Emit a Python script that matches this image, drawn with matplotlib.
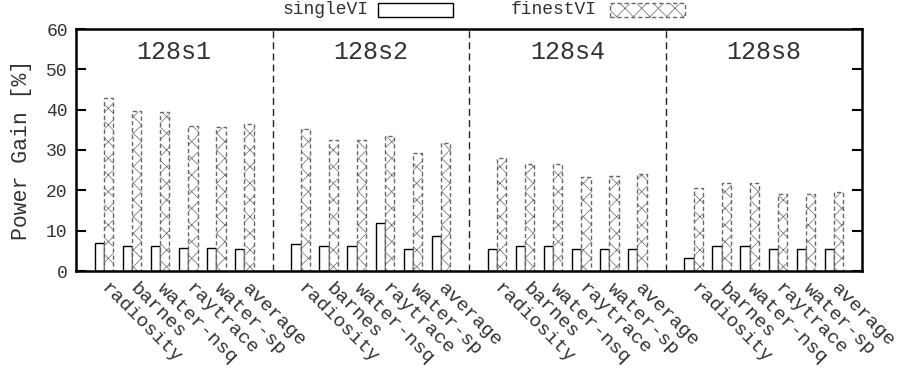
#!/usr/bin/env python3

import numpy as np
import matplotlib
matplotlib.use('Agg')
import matplotlib.pyplot as plt
import matplotlib.ticker as ticker
import matplotlib.patches as mpatches

plt.rcParams['font.family'] = ['Liberation Mono', 'DejaVu Sans Mono']
plt.rcParams['hatch.linewidth'] = 0.5

configs = ['128s1', '128s2', '128s4', '128s8']
benchmarks = ['radiosity', 'barnes', 'water-nsq', 'raytrace', 'water-sp', 'average']
series = ['singleVI', 'finestVI']

# power gain [%] per config, in benchmark order
single_vi = {
    '128s1': [6.9, 6.2, 6.3, 5.7, 5.6, 5.4],
    '128s2': [6.7, 6.2, 6.2, 11.8, 5.5, 8.7],
    '128s4': [5.4, 6.2, 6.2, 5.4, 5.4, 5.4],
    '128s8': [3.3, 6.2, 6.2, 5.4, 5.4, 5.4],
}
finest_vi = {
    '128s1': [42.8, 39.7, 39.5, 36.0, 35.6, 36.4],
    '128s2': [35.2, 32.5, 32.5, 33.5, 29.2, 31.8],
    '128s4': [27.9, 26.5, 26.5, 23.4, 23.6, 24.0],
    '128s8': [20.7, 21.7, 21.7, 19.1, 19.1, 19.7],
}

W, H = 897, 370
fig = plt.figure(figsize=(W / 100, H / 100), dpi=100)
ax = fig.add_axes([76 / W, 1 - 271 / H, 786 / W, 242 / H])

single_style = dict(facecolor='white', edgecolor='black', linewidth=1.0)
finest_style = dict(facecolor='white', edgecolor='#666666', linewidth=1.0,
                    linestyle=(0, (3, 2)), hatch='xx')

slot = len(benchmarks) + 1
width = 0.33
positions = []
labels = []

for g, cfg in enumerate(configs):
    x = np.arange(len(benchmarks)) + g * slot
    positions.extend(x)
    labels.extend(benchmarks)

    ax.bar(x - width / 2, single_vi[cfg], width, **single_style)
    ax.bar(x + width / 2, finest_vi[cfg], width, **finest_style)

    # group title
    ax.text(g * slot + (len(benchmarks) - 1) / 2, 54.3, cfg,
            ha='center', va='center', fontsize=18, color='#333333')

    # separator between groups
    if g < len(configs) - 1:
        ax.axvline(g * slot + len(benchmarks), color='#222222',
                   linewidth=1.0, linestyle=(0, (5, 3)))

ax.set_xlim(-1, len(configs) * slot - 1)
ax.set_ylim(0, 60)
ax.yaxis.set_major_locator(ticker.MultipleLocator(10))

ax.set_xticks(positions)
ax.set_xticklabels(labels, rotation=-45, ha='left', va='center',
                   rotation_mode='anchor', fontsize=14, color='#333333')
ax.tick_params(axis='x', length=0, pad=11)
ax.tick_params(axis='y', direction='in', length=7, width=1.5,
               right=True, labelsize=13, labelcolor='#333333', pad=6)

for spine in ax.spines.values():
    spine.set_linewidth(1.8)

ax.set_ylabel('Power Gain [%]', fontsize=15.5, color='#333333', labelpad=10)

# gnuplot-style key above the plot: label then sample box
key_text_right = [368, 597]
key_box_left = [378, 610]
for name, tx, bx, style in zip(series, key_text_right, key_box_left,
                               [single_style, finest_style]):
    fig.text(tx / W, 1 - 10 / H, name, ha='right', va='center',
             fontsize=13, color='#333333')
    fig.patches.append(mpatches.Rectangle((bx / W, 1 - 17 / H), 75 / W, 14 / H,
                                          transform=fig.transFigure, **style))

plt.savefig('out.png', dpi=100)
